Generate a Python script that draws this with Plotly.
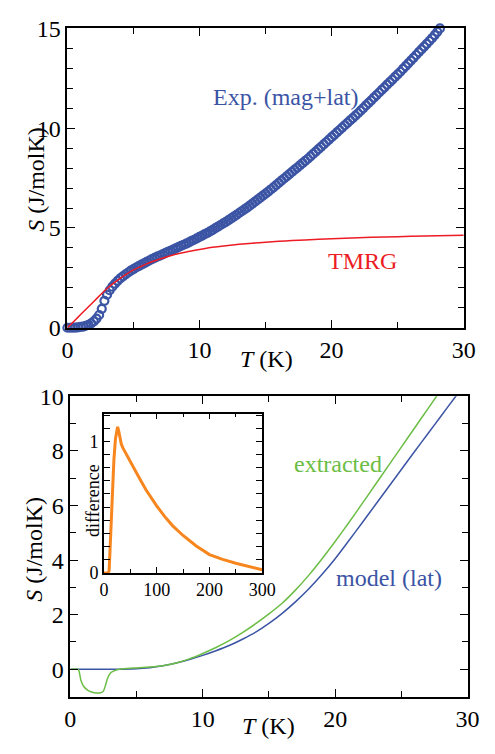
import plotly.graph_objects as go

W, H = 495, 754

# ---- Upper panel: entropy S(T) below 30 K ----
# measured points, 0.2 K apart
T_exp = [round(0.2 * i, 1) for i in range(142)]
S_exp = [
    0.00, 0.00, 0.01, 0.01, 0.02, 0.04, 0.06, 0.10, 0.15, 0.22,
    0.32, 0.46, 0.64, 0.95, 1.35, 1.66, 1.88, 2.06, 2.21, 2.35,
    2.47, 2.58, 2.68, 2.77, 2.86, 2.94, 3.02, 3.09, 3.16, 3.23,
    3.30, 3.37, 3.44, 3.50, 3.56, 3.62, 3.68, 3.74, 3.80, 3.86,
    3.92, 3.98, 4.04, 4.10, 4.16, 4.22, 4.28, 4.35, 4.41, 4.48,
    4.55, 4.62, 4.69, 4.76, 4.83, 4.91, 4.99, 5.07, 5.15, 5.23,
    5.31, 5.39, 5.48, 5.57, 5.66, 5.75, 5.84, 5.93, 6.02, 6.12,
    6.22, 6.32, 6.42, 6.52, 6.62, 6.72, 6.82, 6.93, 7.04, 7.15,
    7.26, 7.37, 7.48, 7.59, 7.70, 7.81, 7.92, 8.03, 8.14, 8.25,
    8.36, 8.47, 8.59, 8.71, 8.83, 8.95, 9.07, 9.19, 9.31, 9.43,
    9.55, 9.67, 9.79, 9.91, 10.03, 10.15, 10.27, 10.39, 10.51, 10.63,
    10.75, 10.88, 11.01, 11.14, 11.27, 11.40, 11.53, 11.66, 11.79, 11.92,
    12.05, 12.18, 12.31, 12.44, 12.57, 12.70, 12.83, 12.97, 13.11, 13.25,
    13.39, 13.53, 13.67, 13.81, 13.95, 14.09, 14.23, 14.37, 14.51, 14.67,
    14.83, 15.00,
]

T_tmrg = [0, 0.5, 1, 1.5, 2, 2.5, 3, 3.5, 4, 4.5, 5, 5.5, 6, 6.5, 7, 7.5, 8, 9,
          10, 11, 12, 13, 14, 15, 16, 17, 18, 20, 22, 24, 26, 28, 30]
S_tmrg = [0, 0.33, 0.66, 0.99, 1.32, 1.65, 1.97, 2.24, 2.48, 2.70, 2.90, 3.05,
          3.20, 3.33, 3.45, 3.55, 3.65, 3.80, 3.92, 4.03, 4.11, 4.18, 4.24,
          4.29, 4.33, 4.37, 4.40, 4.46, 4.51, 4.55, 4.58, 4.61, 4.63]

# ---- Lower panel: lattice model and extracted magnetic entropy ----
T_lat = [0, 2, 4, 5, 6, 7, 8, 9, 10, 11, 12, 13, 14, 15, 16, 17, 18, 19, 20,
         21, 22, 23, 24, 25, 26, 27, 28, 29, 29.2]
S_lat = [0, 0, 0.005, 0.02, 0.06, 0.13, 0.23, 0.36, 0.51, 0.68, 0.87, 1.10,
         1.36, 1.68, 2.05, 2.47, 2.94, 3.47, 4.05, 4.69, 5.34, 6.00, 6.66,
         7.32, 7.98, 8.63, 9.28, 9.93, 10.06]

T_ext = [0, 0.6, 0.8, 1.0, 1.3, 1.6, 2.0, 2.3, 2.5, 2.65, 2.8, 3.0, 3.3, 3.7,
         4, 5, 6, 7, 8, 9, 10, 11, 12, 13, 14, 15, 16, 17, 18, 19,
         20, 21, 22, 23, 24, 25, 26, 27, 27.7]
S_ext = [0, 0, -0.40, -0.62, -0.76, -0.83, -0.87, -0.86, -0.80, -0.60, -0.35,
         -0.15, -0.06, 0.0, 0.02, 0.05, 0.08, 0.13, 0.23, 0.38, 0.58, 0.80,
         1.05, 1.34, 1.67, 2.03, 2.42, 2.90, 3.44, 4.04, 4.68, 5.35, 6.04,
         6.74, 7.44, 8.14, 8.84, 9.54, 10.03]

# inset: difference curve
T_diff = [0, 8, 10, 13, 16, 19, 22, 24, 26, 28, 30, 33, 36, 40, 45, 50, 60,
          70, 80, 90, 100, 115, 130, 150, 175, 200, 225, 250, 275, 300]
S_diff = [0, 0, 0.02, 0.33, 0.62, 0.86, 1.02, 1.08, 1.11, 1.08, 1.03, 0.98,
          0.95, 0.92, 0.88, 0.84, 0.77, 0.70, 0.63, 0.565, 0.51, 0.43, 0.36,
          0.285, 0.205, 0.14, 0.103, 0.074, 0.048, 0.025]

BLUE = "#3b54a4"
RED = "#ed1c24"
GREEN = "#6cbd45"
ORANGE = "#f7861e"
SERIF = "Liberation Serif"


def px_x(p):
    return p / W


def px_y(p):
    return 1 - p / H


def axis(rng, dtick, minor, domain, anchor, size=24, tlen=8, mlen=6):
    return dict(
        range=rng, domain=domain, anchor=anchor,
        tick0=0, dtick=dtick, ticks="inside", ticklen=tlen, tickwidth=1.3,
        tickcolor="black",
        minor=dict(tick0=0, dtick=minor, ticks="inside", ticklen=mlen,
                   tickwidth=1.3, tickcolor="black", showgrid=False),
        showline=True, linecolor="black", linewidth=1.5, mirror="allticks",
        showgrid=False, zeroline=False,
        tickfont=dict(family=SERIF, size=size, color="black"),
    )


fig = go.Figure()

fig.add_trace(go.Scatter(
    x=T_exp, y=S_exp, mode="markers", xaxis="x", yaxis="y",
    marker=dict(symbol="circle-open", size=8, color=BLUE,
                line=dict(width=2.2, color=BLUE)),
    cliponaxis=False, showlegend=False))
fig.add_trace(go.Scatter(
    x=T_tmrg, y=S_tmrg, mode="lines", xaxis="x", yaxis="y",
    line=dict(color=RED, width=1.5, shape="spline", smoothing=0.6),
    showlegend=False))

fig.add_trace(go.Scatter(
    x=T_lat, y=S_lat, mode="lines", xaxis="x2", yaxis="y2",
    line=dict(color=BLUE, width=1.5, shape="spline", smoothing=0.6),
    showlegend=False))
fig.add_trace(go.Scatter(
    x=T_ext, y=S_ext, mode="lines", xaxis="x2", yaxis="y2",
    line=dict(color=GREEN, width=1.5, shape="spline", smoothing=0.6),
    showlegend=False))

fig.add_trace(go.Scatter(
    x=T_diff, y=S_diff, mode="lines", xaxis="x3", yaxis="y3",
    line=dict(color=ORANGE, width=3),
    cliponaxis=False, showlegend=False))

fig.update_layout(
    width=W, height=H, margin=dict(l=0, r=0, t=0, b=0),
    paper_bgcolor="white", plot_bgcolor="white",
    font=dict(family=SERIF),
    xaxis=axis([0, 30], 10, 5, [px_x(64), px_x(477)], "y"),
    yaxis=axis([0, 15], 5, 1, [px_y(326), px_y(16)], "x"),
    xaxis2=axis([0, 30], 10, 5, [px_x(67), px_x(481)], "y2"),
    yaxis2=axis([-1, 10], 2, 1, [px_y(708), px_y(397)], "x2"),
    xaxis3=axis([0, 300], 100, 50, [px_x(102), px_x(267)], "y3",
                size=18, tlen=6, mlen=4),
    yaxis3=axis([0, 1.21], 1, 0.1, [px_y(580), px_y(415)], "x3",
                size=18, tlen=6, mlen=6),
)


def label(text, x, y, color="black", size=24, angle=0):
    fig.add_annotation(
        text=text, x=px_x(x), y=px_y(y), xref="paper", yref="paper",
        showarrow=False, textangle=angle, xanchor="center", yanchor="middle",
        font=dict(family=SERIF, size=size, color=color))


label("Exp. (mag+lat)", 292, 87, BLUE)
label("TMRG", 371, 257, RED)
label("<i>S</i> (J/molK)", 31, 172, angle=-90)
label("<i>T</i> (K)", 271, 358)

label("extracted", 346, 467, GREEN)
label("model (lat)", 399, 585, BLUE)
label("<i>S</i> (J/molK)", 29, 555, angle=-90)
label("<i>T</i> (K)", 274, 738)
label("difference", 90, 505, size=18, angle=-90)

fig.write_html("out.html")
